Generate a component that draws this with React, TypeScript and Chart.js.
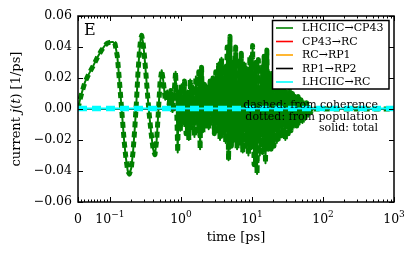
import React, { useEffect, useRef } from 'react';
import { Chart, registerables, LinearScale } from 'chart.js';

// ---------------- data ----------------
const GREEN_T = [
  0, 0.005, 0.012, 0.022, 0.035, 0.048, 0.06, 0.074, 0.084, 0.092, 0.1, 0.11, 0.118, 0.127, 0.135, 0.146,
  0.158, 0.167, 0.178, 0.188, 0.2, 0.212, 0.224, 0.235, 0.247, 0.259, 0.27, 0.28, 0.292, 0.305, 0.322, 0.34,
  0.355, 0.379, 0.405, 0.43, 0.455, 0.48, 0.507, 0.535, 0.564, 0.6, 0.64, 0.68, 0.72, 0.76, 0.8, 0.84, 0.87,
  0.9, 0.93, 0.98, 1.02, 1.07, 1.12, 1.18, 1.23, 1.29, 1.35, 1.41, 1.48, 1.55, 1.62, 1.7, 1.78, 1.86, 1.95,
  2.04, 2.14, 2.24, 2.34, 2.46, 2.57, 2.69, 2.82, 2.95, 3.09, 3.24, 3.39, 3.55, 3.72, 3.89, 4.07, 4.27, 4.47,
  4.68, 4.9, 5.13, 5.37, 5.62, 5.89, 6.17, 6.46, 6.76, 7.08, 7.41, 7.76, 8.13, 8.51, 8.91, 9.33, 9.77, 10.2,
  10.7, 11.2, 11.8, 12.3, 12.9, 13.5, 14.1, 14.8, 15.5, 16.2, 17.0, 17.8, 18.6, 19.5, 20.4, 21.4, 22.4, 23.4,
  24.5, 25.7, 26.9, 28.2, 29.5, 30.9, 32.4, 33.9, 35.5, 37.2, 38.9, 40.7, 42.7, 44.7, 46.8, 49.0, 51.3, 53.7,
  56.2, 58.9, 61.7, 64.6, 67.6, 70.8, 80, 120, 300, 1000,
];
const GREEN_J = [
  0, 0.005, 0.0105, 0.0175, 0.023, 0.028, 0.033, 0.038, 0.041, 0.0425, 0.043, 0.0433, 0.042, 0.034, 0.02, 0,
  -0.02, -0.031, -0.04, -0.042, -0.038, -0.027, -0.012, 0.003, 0.022, 0.036, 0.045, 0.0475, 0.043, 0.035, 0.022, 0.008,
  -0.002, -0.015, -0.026, -0.0295, -0.02, -0.002, 0.017, 0.025, 0.018, 0.006, 0.012, 0.003, 0.012, -0.002, 0.01, 0.024, 0.002,
  -0.028, 0.012, -0.014, 0.016, -0.01, 0.018, -0.016, 0.012, -0.02, 0.019, -0.012, 0.015, -0.018, 0.021, -0.014, 0.024, -0.026, 0.027,
  -0.015, 0.016, -0.011, 0.014, -0.013, 0.018, -0.01, 0.02, -0.016, 0.024, -0.014, 0.03, -0.02, 0.033, -0.018, 0.028, -0.022, 0.04,
  -0.033, 0.047, -0.024, 0.03, -0.02, 0.04, -0.026, 0.032, -0.022, 0.036, -0.028, 0.03, -0.024, 0.026, -0.03, 0.034, -0.026, 0.041,
  -0.036, 0.03, -0.042, 0.032, -0.03, 0.028, -0.028, 0.034, -0.035, 0.038, -0.026, 0.024, -0.026, 0.023, -0.024, 0.02, -0.022, 0.018,
  -0.02, 0.016, -0.018, 0.014, -0.02, 0.012, -0.016, 0.012, -0.014, 0.01, -0.012, 0.009, -0.011, 0.008, -0.01, 0.006, -0.009, 0.005,
  -0.007, 0.004, -0.005, 0.002, -0.002, 0.0, 0, 0, 0, 0,
];
const FLAT_T = [0, 1000];
const RED_J = [0, 0];
const ORANGE_J = [0, 0];
const BLACK_J = [0, 0];
const CYAN_J = [0.0003, 0.0003];

const LEGEND_LABELS = ['LHCIIC→CP43', 'CP43→RC', 'RC→RP1', 'RP1→RP2', 'LHCIIC→RC'];
const LEGEND_COLORS = ['#008000', '#ff0000', '#ffa500', '#000000', '#00ffff'];
const NOTE_LINES = ['dashed: from coherence', 'dotted: from population', 'solid: total'];
const PANEL_LABEL = 'E';
const X_TITLE = 'time [ps]';
const Y_MIN = -0.06;
const Y_MAX = 0.06;
const Y_STEP = 0.02;
const X_MAJOR = [0, 0.1, 1, 10, 100, 1000];
const X_MAJOR_EXP = ['', '−1', '0', '1', '2', '3'];

// ---------------- symlog scale ----------------
const LIN_THRESH = 0.1;
const LIN_SCALE = 0.45;
const tf = (t: number) => (t <= LIN_THRESH ? (LIN_SCALE * t) / LIN_THRESH : LIN_SCALE + Math.log10(t / LIN_THRESH));
const itf = (u: number) => (u <= LIN_SCALE ? (u / LIN_SCALE) * LIN_THRESH : LIN_THRESH * Math.pow(10, u - LIN_SCALE));

class SymlogScale extends LinearScale {
  static id = 'symlog';
  static defaults = {};
  getPixelForValue(value: number) {
    const a = tf(this.min as number), b = tf(this.max as number);
    return this.getPixelForDecimal((tf(value) - a) / (b - a));
  }
  getValueForPixel(pixel: number) {
    const a = tf(this.min as number), b = tf(this.max as number);
    return itf(a + this.getDecimalForPixel(pixel) * (b - a));
  }
  buildTicks() {
    return X_MAJOR.map((v) => ({ value: v }));
  }
}

Chart.register(...registerables, SymlogScale as any);

const X_MINOR: number[] = [];
for (let k = 1; k <= 9; k++) X_MINOR.push(k * 0.01);
for (const dec of [0.1, 1, 10, 100]) for (let k = 2; k <= 9; k++) X_MINOR.push(k * dec);

const FONT = '"DejaVu Serif", serif';

const decorPlugin = {
  id: 'decor',
  afterDatasetsDraw(chart: any) {
    const { ctx, chartArea: a, scales } = chart;
    const x = scales.x;
    const y = scales.y;
    ctx.save();

    // note text
    ctx.fillStyle = '#000';
    ctx.font = `11px ${FONT}`;
    ctx.textAlign = 'right';
    ctx.textBaseline = 'middle';
    NOTE_LINES.forEach((s, i) => ctx.fillText(s, 378, 105 + i * 11.7));

    // frame
    ctx.strokeStyle = '#000';
    ctx.lineWidth = 1.5;
    ctx.strokeRect(a.left, a.top, a.right - a.left, a.bottom - a.top);

    // ticks (inward)
    ctx.lineWidth = 1;
    ctx.beginPath();
    for (const v of X_MAJOR) {
      const p = Math.round(x.getPixelForValue(v)) + 0.5;
      ctx.moveTo(p, a.bottom); ctx.lineTo(p, a.bottom - 5);
      ctx.moveTo(p, a.top); ctx.lineTo(p, a.top + 5);
    }
    for (const v of X_MINOR) {
      const p = Math.round(x.getPixelForValue(v)) + 0.5;
      ctx.moveTo(p, a.bottom); ctx.lineTo(p, a.bottom - 2.5);
      ctx.moveTo(p, a.top); ctx.lineTo(p, a.top + 2.5);
    }
    for (let v = Y_MIN; v <= Y_MAX + 1e-9; v += Y_STEP) {
      const p = Math.round(y.getPixelForValue(v)) + 0.5;
      ctx.moveTo(a.left, p); ctx.lineTo(a.left + 5, p);
      ctx.moveTo(a.right, p); ctx.lineTo(a.right - 5, p);
    }
    ctx.stroke();

    // x tick labels
    ctx.fillStyle = '#000';
    ctx.textBaseline = 'alphabetic';
    ctx.textAlign = 'left';
    X_MAJOR.forEach((v, i) => {
      const p = x.getPixelForValue(v);
      const base = i === 0 ? '0' : '10';
      const exp = X_MAJOR_EXP[i];
      ctx.font = `12.5px ${FONT}`;
      const wb = ctx.measureText(base).width;
      ctx.font = `9px ${FONT}`;
      const we = exp ? ctx.measureText(exp).width : 0;
      const start = p - (wb + we) / 2;
      ctx.font = `12.5px ${FONT}`;
      ctx.fillText(base, start, 223);
      if (exp) {
        ctx.font = `9px ${FONT}`;
        ctx.fillText(exp, start + wb, 217);
      }
    });

    // x title
    ctx.font = `13px ${FONT}`;
    ctx.textAlign = 'center';
    ctx.textBaseline = 'middle';
    ctx.fillText(X_TITLE, 236, 238);

    // y title with italics
    ctx.save();
    ctx.translate(17, (a.top + a.bottom) / 2);
    ctx.rotate(-Math.PI / 2);
    const parts: [string, boolean][] = [['current ', false], ['j', true], ['(', false], ['t', true], [') [1/ps]', false]];
    let total = 0;
    for (const [s, it] of parts) {
      ctx.font = `${it ? 'italic ' : ''}13px ${FONT}`;
      total += ctx.measureText(s).width;
    }
    let cx = -total / 2;
    ctx.textAlign = 'left';
    for (const [s, it] of parts) {
      ctx.font = `${it ? 'italic ' : ''}13px ${FONT}`;
      ctx.fillText(s, cx, 0);
      cx += ctx.measureText(s).width;
    }
    ctx.restore();

    // panel label
    ctx.font = `16px ${FONT}`;
    ctx.textAlign = 'left';
    ctx.textBaseline = 'alphabetic';
    ctx.fillText(PANEL_LABEL, 84, 35);

    // legend
    const lx = 272.5, ly = 20.5, lw = 116.5, lh = 68.5;
    ctx.fillStyle = '#fff';
    ctx.fillRect(lx, ly, lw, lh);
    ctx.strokeStyle = '#000';
    ctx.lineWidth = 1.5;
    ctx.strokeRect(lx, ly, lw, lh);
    ctx.font = `11px ${FONT}`;
    ctx.textBaseline = 'middle';
    LEGEND_LABELS.forEach((s, i) => {
      const ry = 28 + i * 13.5;
      ctx.strokeStyle = LEGEND_COLORS[i];
      ctx.lineWidth = 1.6;
      ctx.beginPath();
      ctx.moveTo(276, ry); ctx.lineTo(293, ry);
      ctx.stroke();
      ctx.fillStyle = '#000';
      ctx.fillText(s, 302, ry + 0.5);
    });

    ctx.restore();
  },
};

const pts = (ts: number[], js: number[]) => ts.map((t, i) => ({ x: t, y: js[i] }));

export default function App() {
  const ref = useRef<HTMLCanvasElement>(null);
  useEffect(() => {
    const green = pts(GREEN_T, GREEN_J);
    const base = { pointRadius: 0, tension: 0, fill: false, borderJoinStyle: 'round', borderCapStyle: 'butt' };
    const chart = new Chart(ref.current as HTMLCanvasElement, {
      type: 'line',
      data: {
        datasets: [
          { ...base, label: LEGEND_LABELS[4] + ' coh', data: pts(FLAT_T, CYAN_J), borderColor: LEGEND_COLORS[4], borderWidth: 5.5, borderDash: [9, 5], order: 0 },
          { ...base, label: LEGEND_LABELS[4], data: pts(FLAT_T, CYAN_J), borderColor: LEGEND_COLORS[4], borderWidth: 2, order: 1 },
          { ...base, label: LEGEND_LABELS[3], data: pts(FLAT_T, BLACK_J), borderColor: LEGEND_COLORS[3], borderWidth: 1.5, order: 2 },
          { ...base, label: LEGEND_LABELS[2], data: pts(FLAT_T, ORANGE_J), borderColor: LEGEND_COLORS[2], borderWidth: 1.5, order: 3 },
          { ...base, label: LEGEND_LABELS[1], data: pts(FLAT_T, RED_J), borderColor: LEGEND_COLORS[1], borderWidth: 1.5, order: 4 },
          { ...base, label: LEGEND_LABELS[0], data: green, borderColor: LEGEND_COLORS[0], borderWidth: 2, order: 5 },
          { ...base, label: LEGEND_LABELS[0] + ' coh', data: green, borderColor: LEGEND_COLORS[0], borderWidth: 5, borderDash: [6, 4], order: 6 },
        ] as any,
      },
      options: {
        animation: false,
        responsive: false,
        maintainAspectRatio: false,
        events: [],
        layout: { padding: { left: 0, right: 22, top: 16, bottom: 0 } },
        plugins: { legend: { display: false }, tooltip: { enabled: false } },
        scales: {
          x: {
            type: 'symlog' as any,
            min: 0,
            max: 1000,
            grid: { display: false, drawTicks: false },
            border: { display: false },
            ticks: { display: false },
            afterFit: (s: any) => { s.height = 54; },
          },
          y: {
            type: 'linear',
            min: Y_MIN,
            max: Y_MAX,
            grid: { display: false, drawTicks: false },
            border: { display: false },
            ticks: {
              stepSize: Y_STEP,
              padding: 6,
              color: '#000',
              font: { family: FONT, size: 12.5 },
              callback: (v: any) => {
                const n = Number(v);
                if (Math.abs(n) < 1e-9) return '0.00';
                return n.toFixed(2).replace('-', '−');
              },
            },
            afterFit: (s: any) => { s.width = 78; },
          },
        },
      } as any,
      plugins: [decorPlugin],
    });
    return () => chart.destroy();
  }, []);
  return (
    <div style={{ position: 'fixed', left: 0, top: 0, width: 416, height: 256, background: '#fff' }}>
      <canvas ref={ref} width={416} height={256} style={{ width: 416, height: 256, display: 'block' }} />
    </div>
  );
}
